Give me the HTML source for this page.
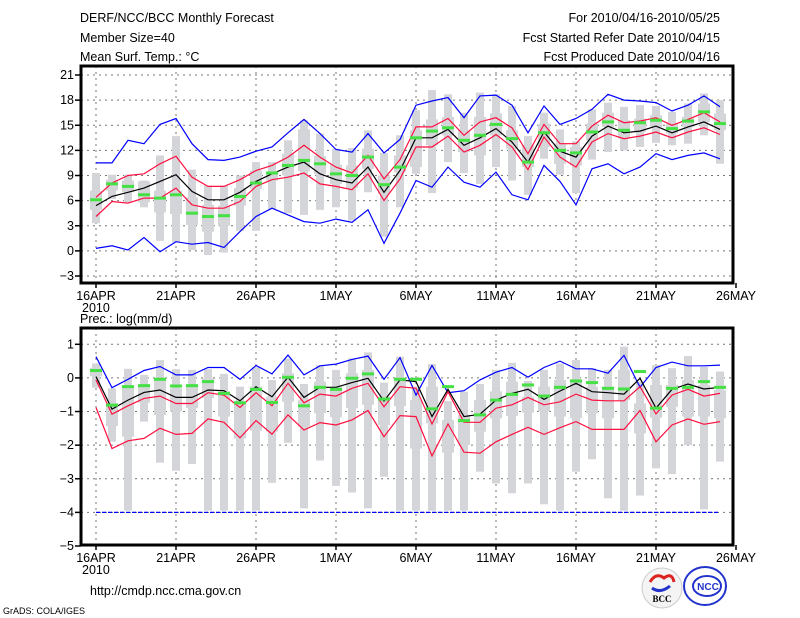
<!DOCTYPE html>
<html><head><meta charset="utf-8"><style>
body{margin:0;background:#fff;width:800px;height:618px;overflow:hidden}
svg{display:block}
text{font-family:"Liberation Sans",sans-serif;font-size:12.5px;fill:#000}
</style></head><body>
<svg id="c" width="800" height="618" xmlns="http://www.w3.org/2000/svg">
<text x="80" y="22">DERF/NCC/BCC Monthly Forecast</text>
<text x="80" y="42">Member Size=40</text>
<text x="80" y="61">Mean Surf. Temp.: °C</text>
<text x="720" y="22" text-anchor="end">For 2010/04/16-2010/05/25</text>
<text x="720" y="42" text-anchor="end">Fcst Started Refer Date 2010/04/15</text>
<text x="720" y="61" text-anchor="end">Fcst Produced Date 2010/04/16</text>
<text x="80" y="323">Prec.: log(mm/d)</text>
<text x="90" y="595">http://cmdp.ncc.cma.gov.cn</text>
<text x="3" y="614" style="font-size:9px">GrADS: COLA/IGES</text>
<g>
<circle cx="662" cy="588" r="20" fill="#f4f4f4" stroke="#ccc"/>
<path d="M650 582 q6 -10 14 -4 q8 -6 10 4" fill="none" stroke="#d22" stroke-width="3"/>
<path d="M652 588 q8 6 18 -2" fill="none" stroke="#23c" stroke-width="3"/>
<text x="662" y="602" text-anchor="middle" style="font-size:9px;font-weight:bold;font-family:'Liberation Serif',serif">BCC</text>
</g>
<g>
<ellipse cx="705" cy="586" rx="21" ry="19" fill="#fff" stroke="#2233cc" stroke-width="2"/>
<ellipse cx="707" cy="586" rx="14" ry="10" fill="#fff" stroke="#2233cc" stroke-width="2"/>
<text x="708" y="590" text-anchor="middle" style="font-size:10px;font-weight:bold;fill:#2233cc">NCC</text>
</g>
</svg>
<script>
// ---- temperature panel data ----
const tMax=[10.5,10.5,13.2,12.8,15.1,15.8,12.8,10.9,10.8,11.2,11.9,12.4,14.1,15.7,14.0,12.1,11.8,14.0,11.7,13.3,17.4,17.9,18.3,15.9,18.5,18.6,17.4,14.1,17.3,15.1,15.8,16.9,18.7,18.0,17.9,17.7,16.7,17.4,18.5,17.2];
const tUp=[6.4,8.1,9.0,9.2,10.4,11.3,8.8,7.7,7.7,8.5,9.6,10.2,11.2,12.6,11.2,10.0,9.3,11.4,8.6,10.9,14.8,14.8,15.8,13.8,15.4,15.9,14.7,11.6,15.1,12.8,12.8,14.9,16.2,15.3,15.5,15.9,15.0,15.7,16.5,15.4];
const tMean=[5.4,6.5,7.0,7.5,8.3,9.1,7.1,6.1,6.1,7.0,8.3,9.2,10.0,10.6,9.2,8.5,8.1,10.0,7.0,9.6,13.5,13.5,14.5,12.6,13.5,14.6,13.0,10.6,14.2,11.9,11.2,13.7,14.9,14.1,14.3,14.9,14.1,14.8,15.4,14.5];
const tLow=[4.1,5.9,5.7,6.3,6.3,7.5,5.5,5.1,5.1,5.9,7.7,8.5,8.8,9.3,8.0,7.7,7.3,9.2,6.0,8.6,12.4,12.4,13.7,11.8,12.6,13.9,12.4,9.7,13.6,11.2,10.0,13.0,14.0,13.4,13.7,14.2,13.5,14.2,14.7,13.9];
const tMin=[0.3,0.6,0.1,1.6,-0.1,1.1,0.8,1.0,0.4,2.3,4.1,5.1,4.3,3.5,3.3,3.8,3.4,4.9,0.9,4.5,8.4,7.6,10.0,8.2,7.6,9.4,6.7,6.1,10.2,8.3,5.5,9.8,10.4,9.2,10.0,11.6,10.9,11.4,11.7,11.0];
const tObs=[6.1,8.0,7.7,6.7,6.3,6.7,4.5,4.1,4.2,6.5,8.1,9.3,10.2,10.8,10.4,9.2,9.0,11.2,7.9,10.0,13.5,14.3,14.7,13.2,13.8,15.1,13.4,10.6,14.1,12.0,11.7,14.2,15.4,14.4,15.3,15.6,14.6,15.5,16.6,15.2];
const tWTop=[9.3,9.1,9.1,8.4,11.4,13.7,9.7,7.8,7.8,9.0,10.6,10.6,13.2,15.6,14.0,12.2,12.3,14.4,11.7,13.8,16.8,19.2,18.7,16.5,18.9,18.7,17.3,13.7,16.5,14.5,13.1,16.9,17.7,17.2,17.4,17.3,16.6,17.6,18.8,18.0];
const tBTop=[7.2,8.5,8.4,8.3,7.2,7.2,6.4,5.5,5.4,7.5,9.6,9.4,11.6,14.5,11.3,10.3,10.2,12.2,9.0,11.4,14.4,15.7,16.0,14.4,16.0,16.4,14.4,12.6,15.2,12.8,12.4,15.2,16.5,15.6,15.8,16.2,15.2,16.0,17.6,16.4];
const tBBot=[4.9,7.2,7.0,5.8,4.6,4.4,3.1,2.3,3.0,5.4,7.4,8.4,9.0,9.5,9.2,8.0,7.5,9.8,6.8,9.4,10.0,12.6,13.8,11.8,11.4,13.8,12.2,10.0,12.4,10.4,10.2,13.2,14.8,13.4,14.2,14.8,14.0,14.8,15.4,14.4];
const tWBot=[3.3,6.2,5.8,5.2,1.2,1.0,0.1,-0.5,-0.2,2.4,2.4,5.0,4.5,4.3,4.9,5.2,3.6,7.0,1.7,5.2,9.2,6.9,10.6,9.3,8.0,10.0,8.4,6.7,11.0,9.1,6.9,10.9,11.8,12.0,12.4,12.9,12.6,12.8,13.8,10.4];
const tTicks=[-3,0,3,6,9,12,15,18,21];
// ---- precipitation panel data ----
const pMax=[0.63,-0.29,-0.04,0.22,0.34,0.09,0.09,0.31,0.31,-0.04,0.37,0.12,0.68,0.09,0.36,0.41,0.55,0.65,-0.04,0.60,-0.51,0.37,-0.44,-0.38,-0.06,0.17,0.31,0.02,0.31,0.50,0.27,0.27,0.14,0.67,-0.28,0.31,0.47,0.36,0.36,0.38];
const pMean=[0.04,-0.93,-0.66,-0.43,-0.36,-0.58,-0.58,-0.36,-0.38,-0.68,-0.26,-0.56,0.02,-0.58,-0.28,-0.28,-0.14,-0.01,-0.69,-0.06,-0.11,-1.15,-0.34,-1.15,-1.08,-0.66,-0.46,-0.34,-0.64,-0.39,-0.16,-0.41,-0.44,-0.48,-0.01,-0.90,-0.34,-0.18,-0.33,-0.28];
const pUp=[-0.06,-1.08,-0.83,-0.61,-0.54,-0.76,-0.76,-0.44,-0.51,-0.88,-0.44,-0.83,-0.16,-0.74,-0.48,-0.54,-0.31,-0.16,-0.86,-0.26,-0.31,-1.37,-0.41,-1.32,-1.32,-0.90,-0.80,-0.58,-0.80,-0.71,-0.48,-0.66,-0.68,-0.68,-0.26,-1.07,-0.51,-0.34,-0.54,-0.46];
const pLow=[-0.88,-2.10,-1.87,-1.80,-1.50,-1.68,-1.65,-1.22,-1.32,-1.78,-1.27,-1.67,-1.10,-1.55,-1.33,-1.40,-1.25,-0.97,-1.75,-1.12,-1.15,-2.32,-1.37,-2.21,-2.24,-1.90,-1.68,-1.47,-1.68,-1.48,-1.30,-1.53,-1.53,-1.53,-0.97,-1.90,-1.40,-1.22,-1.38,-1.30];
const pMin=[-4,-4,-4,-4,-4,-4,-4,-4,-4,-4,-4,-4,-4,-4,-4,-4,-4,-4,-4,-4,-4,-4,-4,-4,-4,-4,-4,-4,-4,-4,-4,-4,-4,-4,-4,-4,-4,-4,-4,-4];
const pObs=[0.22,-0.81,-0.26,-0.23,-0.04,-0.24,-0.23,-0.11,-0.46,-0.74,-0.34,-0.73,0.02,-0.83,-0.28,-0.34,-0.01,0.12,-0.63,-0.04,-0.04,-0.92,-0.26,-1.27,-1.10,-0.66,-0.49,-0.21,-0.54,-0.28,-0.09,-0.14,-0.31,-0.33,0.19,-0.90,-0.31,-0.28,-0.11,-0.28];
const pWTop=[0.43,-0.31,0.27,0.09,0.53,0.26,0.24,0.26,0.12,-0.26,0.32,-0.06,0.58,-0.18,0.38,0.24,0.58,0.76,-0.14,0.63,-0.26,0.41,-0.69,-0.41,-0.18,0.24,0.45,-0.09,0.24,0.43,0.53,0.29,0.24,0.93,-0.11,0.38,0.29,0.65,0.33,0.19];
const pBTop=[0.30,-0.75,-0.26,-0.26,-0.06,-0.31,-0.26,-0.01,-0.40,-0.70,-0.26,-0.56,0.14,-0.66,-0.11,-0.26,0.14,0.24,-0.56,-0.06,-0.66,-0.26,-1.25,-1.10,-0.66,-0.40,-0.11,-0.56,-0.26,-0.06,-0.06,-0.26,-0.26,0.24,-0.76,-0.21,-0.21,-0.06,-0.21,-0.36];
const pBBot=[0.05,-1.43,-1.75,-0.74,-1.10,-1.00,-0.90,-0.60,-1.15,-1.80,-1.57,-1.60,-0.71,-1.45,-1.05,-1.17,-0.90,-0.80,-1.40,-0.84,-2.10,-1.35,-2.22,-1.99,-1.60,-1.20,-1.13,-1.03,-1.00,-1.15,-1.20,-1.05,-1.20,-0.66,-1.65,-1.18,-0.86,-1.15,-1.15,-1.20];
const pWBot=[-0.29,-1.90,-3.95,-1.30,-2.52,-2.76,-2.56,-3.95,-3.95,-3.95,-3.95,-3.12,-1.93,-3.88,-2.46,-3.21,-3.41,-3.88,-2.94,-3.95,-3.95,-3.95,-3.95,-3.95,-2.79,-3.14,-3.43,-3.14,-3.76,-3.95,-2.79,-2.42,-3.58,-3.95,-3.50,-2.69,-2.86,-2.00,-3.91,-2.49];
const pTicks=[-5,-4,-3,-2,-1,0,1];
const xLabels=["16APR","21APR","26APR","1MAY","6MAY","11MAY","16MAY","21MAY","26MAY"];

const svg=document.getElementById('c');
const NS='http://www.w3.org/2000/svg';
function mk(tag,attrs,parent){const e=document.createElementNS(NS,tag);for(const k in attrs)e.setAttribute(k,attrs[k]);(parent||svg).appendChild(e);return e;}
const xDay=i=>96+16*i;

function panel(name,top,bot,vmin,vmax,yTop,yBot,ticks,d){
  const y=v=>yBot-(v-vmin)*(yBot-yTop)/(vmax-vmin);
  const g=mk('g',{});
  
  
  ticks.forEach(t=>{
    const l=mk('line',{x1:81,x2:732,y1:y(t),y2:y(t),stroke:'#777','stroke-dasharray':'2,4'},g);
    
    
    const tx=mk('text',{x:74,y:y(t)+4,'text-anchor':'end'},g);tx.textContent=(t<0?'\u2212'+(-t):t);
    
    
    mk('line',{x1:75,x2:81,y1:y(t),y2:y(t),stroke:'#000','stroke-width':1.5},g);
  });
  xLabels.forEach((lab,k)=>{
    const x=xDay(5*k);
    if(k<8){const l=mk('line',{x1:x,x2:x,y1:top,y2:bot,stroke:'#777','stroke-dasharray':'2,4'},g);
    
    }
    mk('line',{x1:x,x2:x,y1:bot,y2:bot+5,stroke:'#000','stroke-width':1.5},g);
    const tx=mk('text',{x:x,y:bot+17,'text-anchor':'middle'},g);tx.textContent=lab;
    
    
  });
  const yr=mk('text',{x:82,y:bot+29},g);yr.textContent='2010';
  
  
  for(let i=0;i<40;i++){
    const x=xDay(i);
    const w=mk('rect',{x:x-4,y:y(d.wt[i]),width:8,height:Math.max(1,y(d.wb[i])-y(d.wt[i])),fill:'#d4d5d9'},g);
    
    
    const b=mk('rect',{x:x-6,y:y(d.bt[i]),width:12,height:Math.max(1,y(d.bb[i])-y(d.bt[i])),fill:'#d4d5d9'},g);
    
    
  }
  const line=(arr,col,nm,dash)=>{
    const p=mk('polyline',{points:arr.map((v,i)=>xDay(i)+','+y(v).toFixed(1)).join(' '),fill:'none',stroke:col,'stroke-width':1.2},g);
    if(dash)p.setAttribute('stroke-dasharray',dash);
    
    
  };
  line(d.max,'#0000ff','max-line');
  line(d.min,'#0000ff','min-line',d.minDash);
  line(d.up,'#ff1040','upper-line');
  line(d.low,'#ff1040','lower-line');
  line(d.mean,'#000','mean-line');
  for(let i=0;i<40;i++){
    const r=mk('rect',{x:xDay(i)-6,y:y(d.obs[i])-1.5,width:12,height:3,fill:'#44e044'},g);
    
    
  }
  const f=mk('rect',{x:81,y:top,width:652,height:bot-top,fill:'none',stroke:'#000','stroke-width':3},g);
  
  
}
panel('temperature-panel',66,283,-3,21,75,276,tTicks,{max:tMax,up:tUp,mean:tMean,low:tLow,min:tMin,obs:tObs,wt:tWTop,bt:tBTop,bb:tBBot,wb:tWBot});
panel('precip-panel',328,545,-5,1,344.3,546,pTicks,{max:pMax,up:pUp,mean:pMean,low:pLow,min:pMin,obs:pObs,wt:pWTop,bt:pBTop,bb:pBBot,wb:pWBot,minDash:'4,2'});
</script>
</body></html>
